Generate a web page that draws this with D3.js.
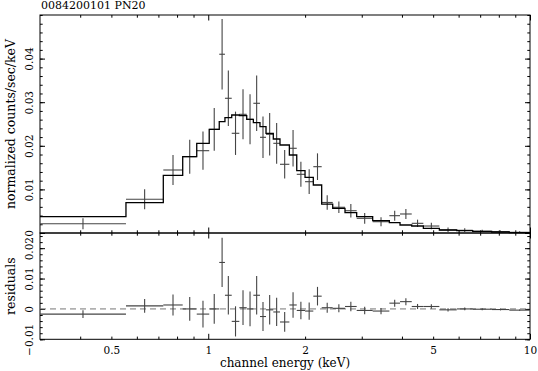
<!DOCTYPE html>
<html>
<head>
<meta charset="utf-8">
<script src="https://cdn.jsdelivr.net/npm/d3@7"></script>
<style>
  body { margin: 0; background: #fff; }
  text { font-family: "DejaVu Serif", serif; fill: #000; }
</style>
</head>
<body>
<div id="chart"></div>
<script>
// bin edges (keV), one more than the bins
var edges = [0.30, 0.555, 0.725, 0.833, 0.921, 1.007, 1.082, 1.127, 1.183, 1.249, 1.317, 1.381, 1.448, 1.512, 1.593, 1.671, 1.787, 1.884, 1.999, 2.121, 2.252, 2.437, 2.661, 2.893, 3.244, 3.655, 3.945, 4.29, 4.662, 5.227, 5.919, 6.638, 7.603, 8.623, 10.0];
// normalized counts/sec/keV
var rate = [0.00213, 0.00773, 0.01445, 0.0175, 0.01888, 0.02378, 0.0410, 0.0309, 0.02287, 0.02722, 0.02608, 0.02975, 0.02195, 0.02264, 0.02057, 0.01576, 0.01943, 0.01346, 0.01177, 0.01521, 0.0070, 0.0059, 0.00511, 0.00337, 0.00259, 0.00397, 0.00436, 0.00222, 0.0016, 0.00069, 0.00062, 0.00039, 0.0003, 0.00016];
var rateErr = [0.00126, 0.00229, 0.00344, 0.0039, 0.0044, 0.0049, 0.0081, 0.00635, 0.00497, 0.00573, 0.00573, 0.00635, 0.00477, 0.00486, 0.00466, 0.00325, 0.0042, 0.00287, 0.00283, 0.00306, 0.00165, 0.00133, 0.00153, 0.00122, 0.00103, 0.00115, 0.00115, 0.00084, 0.00076, 0.00055, 0.00046, 0.00034, 0.00028, 0.00023];
var model = [0.00374, 0.00695, 0.01323, 0.0175, 0.02057, 0.02378, 0.02553, 0.02644, 0.02706, 0.0269, 0.02608, 0.0253, 0.02438, 0.02287, 0.02156, 0.02018, 0.01789, 0.01429, 0.01278, 0.01101, 0.0066, 0.00567, 0.00466, 0.00374, 0.00282, 0.00236, 0.00183, 0.0016, 0.00108, 0.00069, 0.00053, 0.00039, 0.00023, 0.00007];
var resid = [-0.0017, 0.0010, 0.0013, 0.0000, -0.0017, 0.0000, 0.0153, 0.0045, -0.0041, 0.0004, 0.0000, 0.0045, -0.0025, -0.0003, -0.0010, -0.0043, 0.0013, -0.0005, -0.0007, 0.0042, 0.0004, 0.0002, 0.0008, -0.0005, -0.0007, 0.0019, 0.0024, 0.0008, 0.0008, -0.0003, 0.0000, -0.0001, -0.0002, -0.0004];

var xLabels = [0.5, 1, 2, 5, 10];
var xMajor = [1, 10];
var xMinor = [0.4, 0.5, 0.6, 0.7, 0.8, 0.9, 2, 3, 4, 5, 6, 7, 8, 9];
var topTicks = [0, 0.01, 0.02, 0.03, 0.04];
var resTicks = [-0.01, 0, 0.01, 0.02];

var W = 538, H = 371;
var pLeft = 40, pRight = 530, pTop = 15, pMid = 233, pBottom = 339.3;

var svg = d3.select("#chart").append("svg")
  .attr("width", W).attr("height", H);

var x = d3.scaleLog().domain([0.3, 10]).range([pLeft, pRight]);
var yTop = d3.scaleLinear().domain([0, 0.05]).range([pMid, pTop]);
var yRes = d3.scaleLinear().domain([-0.01, 0.025]).range([pBottom, pMid]);

var bins = rate.map(function(d, i) {
  return {lo: edges[i], hi: edges[i + 1], mid: Math.sqrt(edges[i] * edges[i + 1]),
          v: d, e: rateErr[i], m: model[i], r: resid[i]};
});

function noDomain(g) { g.select(".domain").remove(); g.selectAll("line").attr("stroke", "#000"); }

// ticks of one panel, all pointing inwards
function panelTicks(y, yMajor, yMinorStep, y0, y1) {
  var ymn = [];
  var d = y.domain();
  for (var v = Math.ceil(d[0] / yMinorStep - 1e-6) * yMinorStep; v <= d[1] + 1e-9; v += yMinorStep) ymn.push(+v.toFixed(5));

  svg.append("g").attr("transform", "translate(0," + y1 + ")")
    .call(d3.axisBottom(x).tickValues(xMajor).tickSize(-5.5).tickFormat("")).call(noDomain);
  svg.append("g").attr("transform", "translate(0," + y1 + ")")
    .call(d3.axisBottom(x).tickValues(xMinor).tickSize(-2.7).tickFormat("")).call(noDomain);
  svg.append("g").attr("transform", "translate(0," + y0 + ")")
    .call(d3.axisTop(x).tickValues(xMajor).tickSize(-5.5).tickFormat("")).call(noDomain);
  svg.append("g").attr("transform", "translate(0," + y0 + ")")
    .call(d3.axisTop(x).tickValues(xMinor).tickSize(-2.7).tickFormat("")).call(noDomain);

  [[pLeft, d3.axisLeft], [pRight, d3.axisRight]].forEach(function(p) {
    svg.append("g").attr("transform", "translate(" + p[0] + ",0)")
      .call(p[1](y).tickValues(ymn).tickSize(-2.7).tickFormat("")).call(noDomain);
    svg.append("g").attr("transform", "translate(" + p[0] + ",0)")
      .call(p[1](y).tickValues(yMajor).tickSize(-5).tickFormat("")).call(noDomain);
  });

  var lab = svg.append("g").attr("transform", "translate(" + pLeft + ",0)")
    .call(d3.axisLeft(y).tickValues(yMajor).tickSize(0).tickFormat(function(v) { return v === 0 ? "0" : d3.format("")(+v.toFixed(3)); }));
  lab.select(".domain").remove();
  lab.selectAll("text")
    .attr("transform", "rotate(-90)")
    .attr("x", 0).attr("y", -7).attr("dy", 0)
    .attr("text-anchor", "middle")
    .style("font-family", "DejaVu Serif").style("font-size", "10.5px");
}

panelTicks(yTop, topTicks, 0.002, pTop, pMid);
panelTicks(yRes, resTicks, 0.002, pMid, pBottom);

// frames
svg.append("rect").attr("x", pLeft).attr("y", pTop).attr("width", pRight - pLeft).attr("height", pMid - pTop)
  .attr("fill", "none").attr("stroke", "#000").attr("stroke-width", 1);
svg.append("rect").attr("x", pLeft).attr("y", pMid).attr("width", pRight - pLeft).attr("height", pBottom - pMid)
  .attr("fill", "none").attr("stroke", "#000").attr("stroke-width", 1);

// x labels
var xl = svg.append("g").attr("transform", "translate(0," + pBottom + ")")
  .call(d3.axisBottom(x).tickValues(xLabels).tickSize(0).tickPadding(7).tickFormat(d3.format("")));
xl.select(".domain").remove();
xl.selectAll("text").style("font-family", "DejaVu Serif").style("font-size", "10.5px");

// data crosses, top panel
var dataColor = "#444";
svg.append("g").selectAll("line").data(bins).enter().append("line")
  .attr("x1", function(d) { return x(d.lo); }).attr("x2", function(d) { return x(d.hi); })
  .attr("y1", function(d) { return yTop(d.v); }).attr("y2", function(d) { return yTop(d.v); })
  .attr("stroke", dataColor).attr("stroke-width", 1.1);
svg.append("g").selectAll("line").data(bins).enter().append("line")
  .attr("x1", function(d) { return x(d.mid); }).attr("x2", function(d) { return x(d.mid); })
  .attr("y1", function(d) { return yTop(d.v - d.e); }).attr("y2", function(d) { return yTop(d.v + d.e); })
  .attr("stroke", dataColor).attr("stroke-width", 1.1);

// model step
var stepPts = bins.map(function(d) { return [d.lo, d.m]; });
stepPts.push([edges[edges.length - 1], model[model.length - 1]]);
svg.append("path").datum(stepPts)
  .attr("d", d3.line().x(function(d) { return x(d[0]); }).y(function(d) { return yTop(d[1]); }).curve(d3.curveStepAfter))
  .attr("fill", "none").attr("stroke", "#000").attr("stroke-width", 1.3);

// residuals
svg.append("line").attr("x1", pLeft).attr("x2", pRight).attr("y1", yRes(0)).attr("y2", yRes(0))
  .attr("stroke", "#777").attr("stroke-width", 1).attr("stroke-dasharray", "6,4");
svg.append("g").selectAll("line").data(bins).enter().append("line")
  .attr("x1", function(d) { return x(d.lo); }).attr("x2", function(d) { return x(d.hi); })
  .attr("y1", function(d) { return yRes(d.r); }).attr("y2", function(d) { return yRes(d.r); })
  .attr("stroke", dataColor).attr("stroke-width", 1.1);
svg.append("g").selectAll("line").data(bins).enter().append("line")
  .attr("x1", function(d) { return x(d.mid); }).attr("x2", function(d) { return x(d.mid); })
  .attr("y1", function(d) { return yRes(d.r - d.e); }).attr("y2", function(d) { return yRes(d.r + d.e); })
  .attr("stroke", dataColor).attr("stroke-width", 1.1);

// titles
svg.append("text").attr("x", 41).attr("y", 9).style("font-size", "11px").text("0084200101 PN20");
svg.append("text").attr("transform", "translate(15," + (pTop + pMid) / 2 + ")rotate(-90)")
  .attr("text-anchor", "middle").style("font-size", "12.5px").text("normalized counts/sec/keV");
svg.append("text").attr("transform", "translate(15," + (pMid + pBottom) / 2 + ")rotate(-90)")
  .attr("text-anchor", "middle").style("font-size", "12.5px").text("residuals");
svg.append("text").attr("x", (pLeft + pRight) / 2).attr("y", 367).attr("text-anchor", "middle")
  .style("font-size", "12px").text("channel energy (keV)");
</script>
</body>
</html>
